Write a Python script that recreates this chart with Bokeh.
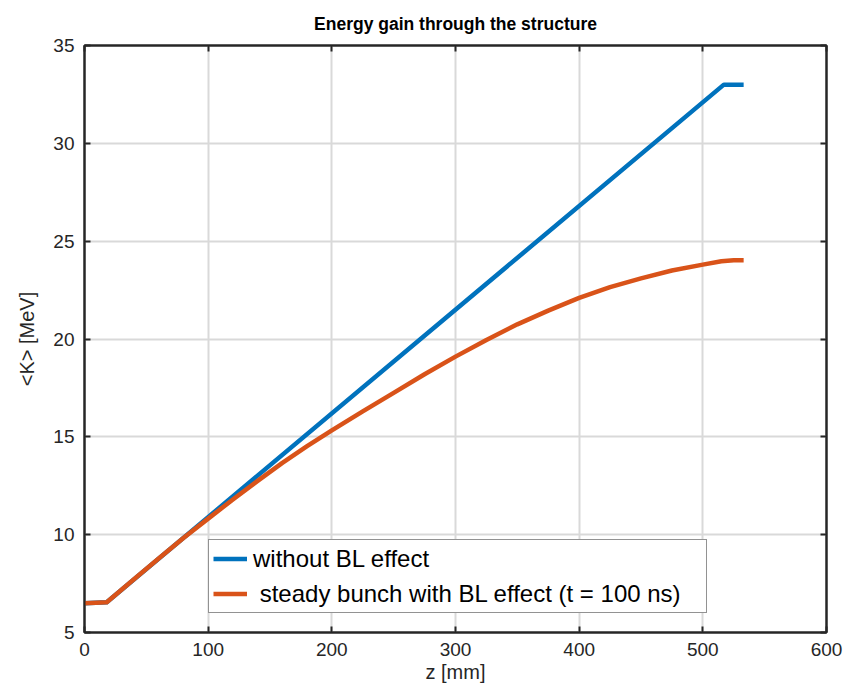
from bokeh.plotting import figure
from bokeh.models import Range1d, FixedTicker, LinearAxis, Legend, LegendItem
from bokeh.embed import file_html
from bokeh.resources import INLINE

# Mean kinetic energy along the structure
z_no_bl = [0, 18, 517, 533]
k_no_bl = [6.5, 6.55, 33.0, 33.0]

z_bl = [0, 18, 40, 60, 80, 100, 120, 140, 160, 180, 200, 225, 250, 275, 300, 325,
        350, 375, 400, 425, 450, 475, 500, 515, 525, 533]
k_bl = [6.5, 6.55, 7.72, 8.78, 9.83, 10.82, 11.8, 12.75, 13.67, 14.52, 15.33, 16.3,
        17.25, 18.2, 19.1, 19.95, 20.75, 21.45, 22.1, 22.65, 23.1, 23.5, 23.8, 23.97,
        24.02, 24.02]

x_ticks = [0, 100, 200, 300, 400, 500, 600]
y_ticks = [5, 10, 15, 20, 25, 30, 35]

label_no_bl = "without BL effect"
label_bl = " steady bunch with BL effect (t = 100 ns)"

FONT = "Liberation Sans"
INK = "#262626"

p = figure(width=854, height=691,
           x_range=Range1d(0, 600), y_range=Range1d(5, 35),
           output_backend="svg", toolbar_location=None,
           min_border_left=84, min_border_right=28,
           min_border_top=45, min_border_bottom=59,
           background_fill_color="white", border_fill_color="white")

p.title.text = "Energy gain through the structure"
p.title.align = "center"
p.title.text_font = FONT
p.title.text_font_size = "17.5px"
p.title.text_font_style = "bold"
p.title.text_color = "black"
p.title.standoff = 23

p.outline_line_color = INK
p.outline_line_width = 2
p.outline_line_alpha = 1

for ax in (p.xaxis[0], p.yaxis[0]):
    ax.major_label_text_font = FONT
    ax.major_label_text_font_size = "19px"
    ax.major_label_text_color = INK
    ax.axis_label_text_font = FONT
    ax.axis_label_text_font_size = "20px"
    ax.axis_label_text_font_style = "normal"
    ax.axis_label_text_color = INK
    ax.axis_line_color = INK
    ax.axis_line_width = 2
    ax.major_tick_line_color = INK
    ax.major_tick_line_width = 2
    ax.major_tick_in = 6
    ax.major_tick_out = 0
    ax.minor_tick_line_color = None

p.xaxis[0].ticker = FixedTicker(ticks=x_ticks)
p.yaxis[0].ticker = FixedTicker(ticks=y_ticks)
p.xaxis[0].axis_label = "z [mm]"
p.yaxis[0].axis_label = "<K> [MeV]"
p.xaxis[0].major_label_standoff = 10
p.xaxis[0].axis_label_standoff = 2
p.yaxis[0].major_label_standoff = 10
p.yaxis[0].axis_label_standoff = 12

# box ticks on the top and right edges (labels not drawn)
for loc, ticks in (("right", y_ticks), ("above", x_ticks)):
    ax = LinearAxis(ticker=FixedTicker(ticks=ticks))
    ax.major_label_text_font_size = "1px"
    ax.major_label_text_color = None
    ax.major_label_standoff = 0
    ax.axis_line_color = INK
    ax.axis_line_width = 2
    ax.major_tick_line_color = INK
    ax.major_tick_line_width = 2
    ax.major_tick_in = 6
    ax.major_tick_out = 0
    ax.minor_tick_line_color = None
    p.add_layout(ax, loc)

p.xgrid.ticker = FixedTicker(ticks=x_ticks)
p.ygrid.ticker = FixedTicker(ticks=y_ticks)
for g in (p.xgrid[0], p.ygrid[0]):
    g.grid_line_color = "#d9d9d9"
    g.grid_line_width = 2

r1 = p.line(z_no_bl, k_no_bl, line_color="#0072BD", line_width=4.5, line_join="round")
r2 = p.line(z_bl, k_bl, line_color="#D95319", line_width=4.5, line_join="round")

legend = Legend(items=[LegendItem(label=label_no_bl, renderers=[r1]),
                       LegendItem(label=label_bl, renderers=[r2])],
                location=(124, 19))
legend.label_text_font = FONT
legend.label_text_font_size = "24px"
legend.label_text_color = "black"
legend.glyph_width = 34
legend.glyph_height = 29
legend.label_height = 29
legend.label_width = 449
legend.label_standoff = 6
legend.padding = 4
legend.spacing = 6
legend.margin = 0
legend.border_line_color = INK
legend.border_line_width = 1
legend.background_fill_color = "white"
legend.background_fill_alpha = 1
p.add_layout(legend)

open("out.html", "w").write(file_html(p, INLINE))
